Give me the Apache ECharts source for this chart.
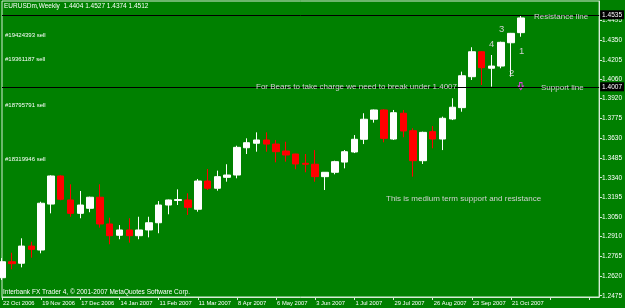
<!DOCTYPE html>
<html>
<head>
<meta charset="utf-8">
<script src="https://cdn.jsdelivr.net/npm/echarts@6/dist/echarts.min.js"></script>
<style>
html,body{margin:0;padding:0;background:#008000;}
#chart{width:625px;height:308px;}
</style>
</head>
<body>
<div id="chart"></div>
<script>
// Weekly bars, EURUSDm
var categories = ["22 Oct 2006","29 Oct 2006","5 Nov 2006","12 Nov 2006","19 Nov 2006","26 Nov 2006","3 Dec 2006","10 Dec 2006","17 Dec 2006","24 Dec 2006","31 Dec 2006","7 Jan 2007","14 Jan 2007","21 Jan 2007","28 Jan 2007","4 Feb 2007","11 Feb 2007","18 Feb 2007","25 Feb 2007","4 Mar 2007","11 Mar 2007","18 Mar 2007","25 Mar 2007","1 Apr 2007","8 Apr 2007","15 Apr 2007","22 Apr 2007","29 Apr 2007","6 May 2007","13 May 2007","20 May 2007","27 May 2007","3 Jun 2007","10 Jun 2007","17 Jun 2007","24 Jun 2007","1 Jul 2007","8 Jul 2007","15 Jul 2007","22 Jul 2007","29 Jul 2007","5 Aug 2007","12 Aug 2007","19 Aug 2007","26 Aug 2007","2 Sep 2007","9 Sep 2007","16 Sep 2007","23 Sep 2007","30 Sep 2007","7 Oct 2007","14 Oct 2007","21 Oct 2007","28 Oct 2007"];
var futureSlots = 8; // empty chart shift area on the right
var opens  = [1.2607,1.2724,1.2713,1.2839,1.2810,1.3147,1.3353,1.3177,1.3079,1.3116,1.3197,1.3001,1.2918,1.2957,1.2915,1.2957,1.3010,1.3140,1.3173,1.3177,1.3109,1.3316,1.3263,1.3343,1.3360,1.3560,1.3593,1.3617,1.3587,1.3536,1.3514,1.3446,1.3439,1.3348,1.3380,1.3455,1.3529,1.3622,1.3769,1.3837,1.3624,1.3813,1.3685,1.3465,1.3678,1.3624,1.3771,1.3854,1.4081,1.4264,1.4143,1.4159,1.4330,1.4404];
var highs  = [1.2751,1.2790,1.2896,1.2871,1.3164,1.3358,1.3358,1.3292,1.3243,1.3201,1.3292,1.3047,1.2993,1.3043,1.3054,1.3054,1.3169,1.3180,1.3255,1.3226,1.3331,1.3404,1.3392,1.3439,1.3575,1.3629,1.3673,1.3673,1.3617,1.3604,1.3516,1.3514,1.3543,1.3382,1.3465,1.3543,1.3653,1.3813,1.3840,1.3842,1.3837,1.3837,1.3703,1.3678,1.3719,1.3788,1.3923,1.4118,1.4297,1.4268,1.4240,1.4338,1.4402,1.4527];
var lows   = [1.2590,1.2669,1.2683,1.2754,1.2786,1.3079,1.3175,1.3054,1.3043,1.3087,1.2974,1.2852,1.2889,1.2864,1.2889,1.2903,1.2933,1.3072,1.3140,1.3067,1.3091,1.3250,1.3245,1.3311,1.3336,1.3514,1.3531,1.3531,1.3453,1.3458,1.3402,1.3380,1.3311,1.3250,1.3365,1.3409,1.3521,1.3587,1.3744,1.3600,1.3617,1.3637,1.3348,1.3441,1.3556,1.3543,1.3763,1.3824,1.4057,1.4020,1.4008,1.4143,1.4081,1.4374];
var closes = [1.2724,1.2710,1.2839,1.2815,1.3153,1.3353,1.3182,1.3079,1.3140,1.3197,1.3001,1.2915,1.2957,1.2915,1.2957,1.3010,1.3140,1.3177,1.3180,1.3123,1.3316,1.3263,1.3348,1.3360,1.3563,1.3597,1.3617,1.3587,1.3531,1.3507,1.3441,1.3439,1.3348,1.3380,1.3458,1.3531,1.3622,1.3769,1.3837,1.3629,1.3817,1.3683,1.3465,1.3673,1.3624,1.3776,1.3857,1.4088,1.4264,1.4147,1.4159,1.4333,1.4399,1.4512];
var yTickLabels = [1.2475,1.2620,1.2765,1.2910,1.3050,1.3195,1.3340,1.3485,1.3630,1.3775,1.3920,1.4060,1.4205,1.4350,1.4495];
var resistanceLevel = 1.4535;
var supportLevel = 1.4007;
var titleText = "EURUSDm,Weekly  1.4404 1.4527 1.4374 1.4512";
var orderLabels = ["#19424393 sell","#19361187 sell","#18795791 sell","#18319946 sell"];

var xData = categories.slice();
for (var k = 0; k < futureSlots; k++) xData.push("");
var candleData = opens.map(function (o, i) { return [o, closes[i], lows[i], highs[i]]; });

var chart = echarts.init(document.getElementById('chart'), null, {renderer: 'canvas'});
var FONT = 'Liberation Sans, Arial, sans-serif';
var light = '#d6ecd6';
var annColor = '#d0d0d0';

function txt(x, y, s, size, color) {
  return {type: 'text', x: x, y: y, z: 100, silent: true,
    style: {text: s, fill: color || annColor, fontSize: size, fontFamily: FONT, verticalAlign: 'middle', align: 'left'}};
}

var option = {
  animation: false,
  backgroundColor: '#008000',
  grid: {left: 2, right: 23, top: 1, bottom: 11, show: true, borderColor: light, borderWidth: 1, backgroundColor: 'transparent'},
  xAxis: {
    type: 'category', data: xData, boundaryGap: false,
    axisLine: {show: true, lineStyle: {color: light, width: 1}},
    axisTick: {show: true, interval: 3, length: 3, lineStyle: {color: light}},
    axisLabel: {interval: 3, align: 'left', color: '#ffffff', fontSize: 5.8, fontFamily: FONT, margin: 3, padding: [0, 0, 0, 1], hideOverlap: false},
    splitLine: {show: false}
  },
  yAxis: {
    type: 'value', position: 'right', min: 1.24655, max: 1.46361, scale: true,
    axisLine: {show: true, lineStyle: {color: light, width: 1}},
    axisTick: {show: true, length: 3, customValues: yTickLabels, lineStyle: {color: light}},
    axisLabel: {customValues: yTickLabels, formatter: function (v) { return v.toFixed(4); }, color: '#ffffff', fontSize: 6.5, fontFamily: FONT, margin: 3},
    splitLine: {show: false}
  },
  series: [{
    type: 'candlestick',
    data: candleData,
    barWidth: 7,
    itemStyle: {color: '#ffffff', color0: '#ff0000', borderColor: '#ffffff', borderColor0: '#ff0000', borderWidth: 1},
    markLine: {
      silent: true, symbol: ['none', 'none'], precision: 4, z: 50,
      lineStyle: {color: '#000000', width: 1, type: 'solid'},
      label: {show: true, position: 'end', distance: 1, formatter: function (p) { return p.value.toFixed(4); },
        backgroundColor: '#000000', color: '#ffffff', fontSize: 6.5, fontFamily: FONT, padding: [1, 2, 1, 2]},
      data: [{yAxis: resistanceLevel}, {yAxis: supportLevel}]
    },
    markPoint: {
      silent: true,
      symbol: 'path://M2,0 L6,0 L6,5 L8,5 L4,10 L0,5 L2,5 Z',
      symbolSize: [5, 7],
      itemStyle: {color: 'transparent', borderColor: '#e040e0', borderWidth: 1},
      label: {show: false},
      data: [{coord: [categories.length - 1, 1.4012]}]
    }
  }],
  graphic: [
    txt(4, 6.5, titleText, 6.5, '#ffffff'),
    txt(5, 35.7, orderLabels[0], 6, '#ffffff'),
    txt(5, 59, orderLabels[1], 6, '#ffffff'),
    txt(5, 105, orderLabels[2], 6, '#ffffff'),
    txt(5, 159.3, orderLabels[3], 6, '#ffffff'),
    txt(256, 87, "For Bears to take charge we need to break under 1.4007", 8),
    txt(534, 17, "Resistance line", 8),
    txt(541, 88, "Support line", 8),
    txt(386, 199, "This is medium term support and resistance", 8),
    txt(499, 29, "3", 9.5),
    txt(489, 44, "4", 9.5),
    txt(519, 51, "1", 9.5),
    txt(509, 73, "2", 9.5),
    txt(3, 292.7, "Interbank FX Trader 4, \u00a9 2001-2007 MetaQuotes Software Corp.", 6.5, '#ffffff')
  ]
};
chart.setOption(option);
</script>
</body>
</html>
